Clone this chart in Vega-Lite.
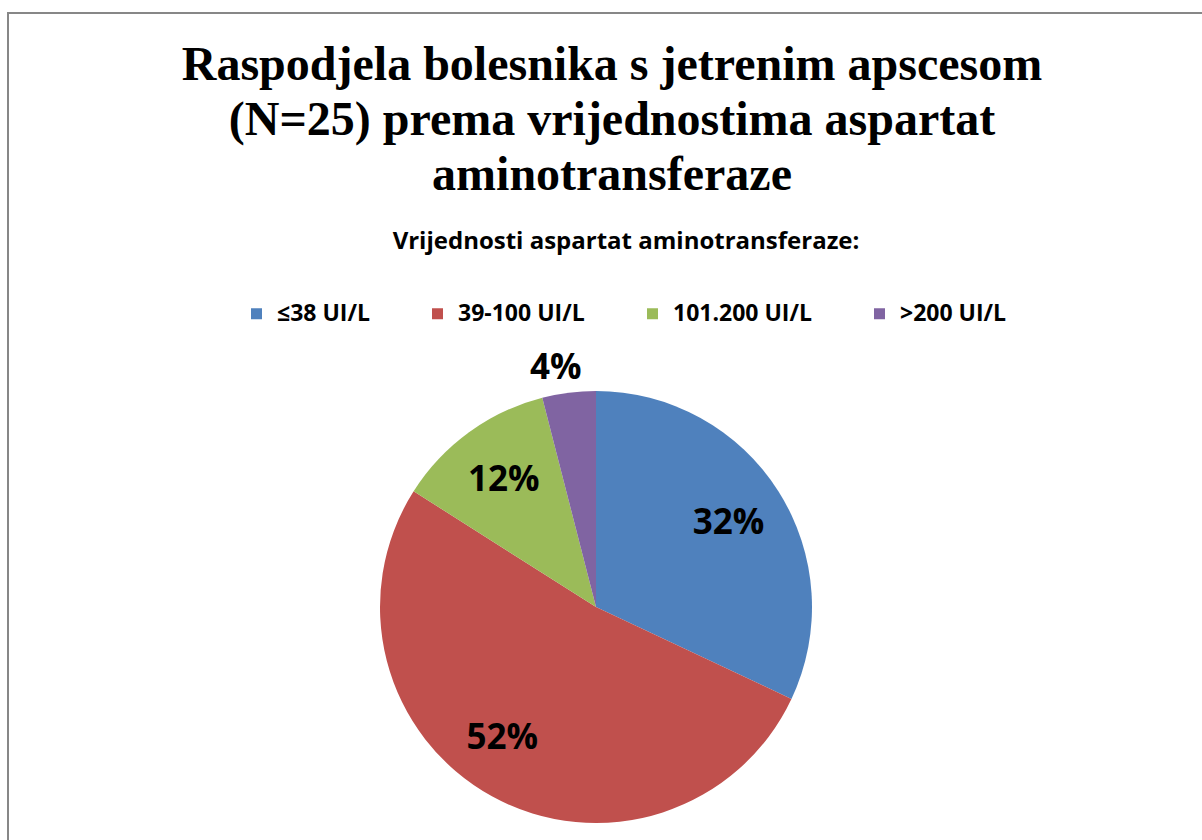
{
  "$schema": "https://vega.github.io/schema/vega-lite/v6.json",
  "width": 1200,
  "height": 835,
  "padding": {"left": 8, "top": 13, "right": -6, "bottom": -8},
  "autosize": {"type": "none"},
  "background": "white",
  "view": {"stroke": "#878787", "strokeWidth": 2},
  "config": {"view": {"stroke": "#878787", "strokeWidth": 2}},
  "title": {
    "text": ["Raspodjela bolesnika s jetrenim apscesom", "(N=25) prema vrijednostima  aspartat", "aminotransferaze"],
    "font": "Liberation Serif",
    "fontSize": 48,
    "fontWeight": "bold",
    "lineHeight": 55,
    "color": "black",
    "anchor": "middle",
    "frame": "group",
    "offset": -187,
    "dx": 4
  },
  "data": {
    "values": [
      {"cat": "≤38 UI/L", "n": 8, "lab": "32%", "ord": 1},
      {"cat": "39-100 UI/L", "n": 13, "lab": "52%", "ord": 2},
      {"cat": "101.200 UI/L", "n": 3, "lab": "12%", "ord": 3},
      {"cat": ">200 UI/L", "n": 1, "lab": "4%", "ord": 4}
    ]
  },
  "encoding": {
    "theta": {"field": "n", "type": "quantitative", "stack": true},
    "order": {"field": "ord", "type": "quantitative"}
  },
  "layer": [
    {
      "mark": {"type": "arc", "outerRadius": 216, "x": {"expr": "width/2-12"}, "y": {"expr": "height/2+176.5"}},
      "encoding": {
        "color": {
          "field": "cat",
          "type": "nominal",
          "sort": ["≤38 UI/L", "39-100 UI/L", "101.200 UI/L", ">200 UI/L"],
          "scale": {
            "domain": ["≤38 UI/L", "39-100 UI/L", "101.200 UI/L", ">200 UI/L"],
            "range": ["#4F81BD", "#C0504D", "#9BBB59", "#8064A2"]
          },
          "legend": {
            "title": "Vrijednosti aspartat aminotransferaze:",
            "orient": "none",
            "legendX": 237,
            "legendY": 217,
            "direction": "horizontal",
            "titleOrient": "top",
            "titleAnchor": "middle",
            "titleFont": "Open Sans",
            "titleFontSize": 24,
            "titleFontWeight": "bold",
            "titleColor": "black",
            "titlePadding": 48,
            "titleLimit": 0,
            "labelFont": "Open Sans",
            "labelFontSize": 23,
            "labelFontWeight": "bold",
            "labelColor": "black",
            "labelLimit": 0,
            "labelOffset": 9,
            "symbolType": "square",
            "symbolSize": 121,
            "symbolStrokeWidth": 0,
            "symbolOpacity": 1,
            "columnPadding": 56
          }
        }
      }
    },
    {
      "mark": {"type": "text", "radius": 157, "x": {"expr": "width/2-12"}, "y": {"expr": "height/2+176.5"}, "font": "Open Sans", "fontSize": 35, "fontWeight": "bold", "color": "black", "align": "center", "baseline": "middle"},
      "encoding": {
        "text": {"condition": {"test": "datum.lab=='32%' || datum.lab=='12%'", "field": "lab"}, "value": ""}
      }
    },
    {
      "mark": {"type": "text", "radius": 155, "dx": -19, "dy": -5, "x": {"expr": "width/2-12"}, "y": {"expr": "height/2+176.5"}, "font": "Open Sans", "fontSize": 35, "fontWeight": "bold", "color": "black", "align": "center", "baseline": "middle"},
      "encoding": {
        "text": {"condition": {"test": "datum.lab=='52%'", "field": "lab"}, "value": ""}
      }
    },
    {
      "mark": {"type": "text", "radius": 241, "dx": -10, "x": {"expr": "width/2-12"}, "y": {"expr": "height/2+176.5"}, "font": "Open Sans", "fontSize": 35, "fontWeight": "bold", "color": "black", "align": "center", "baseline": "middle"},
      "encoding": {
        "text": {"condition": {"test": "datum.lab=='4%'", "field": "lab"}, "value": ""}
      }
    }
  ]
}
